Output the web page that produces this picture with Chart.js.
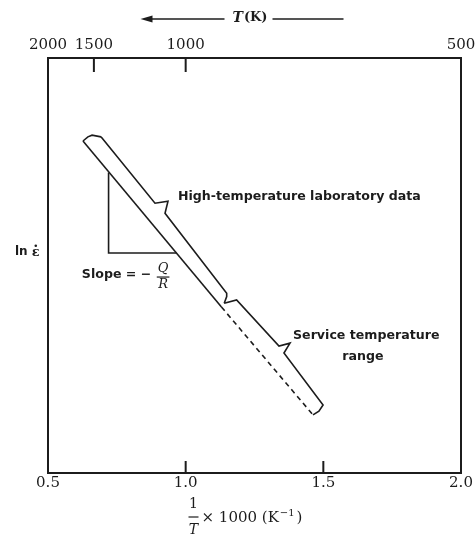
<!DOCTYPE html>
<html>
<head>
<meta charset="utf-8">
<script src="https://cdn.jsdelivr.net/npm/chart.js@4.4.0/dist/chart.umd.min.js"></script>
<style>
  html, body { margin: 0; padding: 0; background: #fff; }
</style>
</head>
<body>
<canvas id="creepChart" width="476" height="541"></canvas>
<script>
// bottom axis: 1000/T in 1/K
const invTempTicks = [0.5, 1.0, 1.5, 2.0];
// top axis: temperature in K
const tempTicks = [2000, 1500, 1000, 500];

// band outline, x = 1000/T, y = ln(strain rate) in arbitrary units
const bandTopCap = [[0.627, 8.0], [0.645, 8.10], [0.660, 8.14], [0.6925, 8.10]];
const labDataEdge = [[0.6925, 8.10], [0.8886, 6.50], [0.9358, 6.55], [0.925, 6.26], [1.149, 4.33], [1.149, 4.25], [1.14, 4.09]];
const serviceEdge = [[1.14, 4.09], [1.185, 4.17], [1.339, 3.06], [1.379, 3.13], [1.357, 2.89], [1.499, 1.64], [1.484, 1.49], [1.4625, 1.40]];
const lowerEdgeSolid = [[0.627, 8.0], [1.13, 4.0]];
const lowerEdgeDashed = [[1.13, 4.0], [1.4625, 1.40]];
const slopeTriangle = [[0.72, 7.24], [0.72, 5.3], [0.966, 5.3]];

const ink = '#1c1c1c';
const serif = 'DejaVu Serif';
const sans = 'DejaVu Sans';

function edge(points, dash) {
    return {
        data: points.map(([x, y]) => ({ x, y })),
        showLine: true,
        borderColor: ink,
        borderWidth: 1.6,
        borderDash: dash || [],
        pointRadius: 0,
        tension: 0
    };
}

function line(ctx, x1, y1, x2, y2) {
    ctx.beginPath();
    ctx.moveTo(x1, y1);
    ctx.lineTo(x2, y2);
    ctx.stroke();
}

function text(ctx, str, x, y, font, align) {
    ctx.font = font;
    ctx.textAlign = align || 'left';
    ctx.textBaseline = 'middle';
    ctx.fillText(str, x, y);
    return ctx.measureText(str).width;
}

function fraction(ctx, num, den, cx, cy, font, gap) {
    text(ctx, num, cx, cy - gap, font, 'center');
    text(ctx, den, cx, cy + gap, font, 'center');
    ctx.font = font;
    const w = Math.max(ctx.measureText(num).width, ctx.measureText(den).width) + 2;
    ctx.lineWidth = 1.2;
    line(ctx, cx - w / 2, cy, cx + w / 2, cy);
}

// keep the plot box fixed, whatever the edge labels need
function fixBox(size) {
    return s => {
        if (s.isHorizontal()) s.height = size; else s.width = size;
        s.paddingLeft = 0;
        s.paddingRight = 0;
        s.paddingTop = 0;
        s.paddingBottom = 0;
    };
}

const figureNotes = {
    id: 'figureNotes',
    afterDraw(chart) {
        const { ctx, chartArea: area, scales } = chart;
        const x = scales.x, y = scales.y, top = scales.xTop;
        const px = v => x.getPixelForValue(v);
        const py = v => y.getPixelForValue(v);
        ctx.save();
        ctx.strokeStyle = ink;
        ctx.fillStyle = ink;

        // tick marks point into the plot
        ctx.lineWidth = 2;
        invTempTicks.filter(v => v > x.min && v < x.max).forEach(v => {
            line(ctx, px(v), area.bottom, px(v), area.bottom - 12);
        });
        tempTicks.map(t => 1000 / t).filter(v => v > top.min && v < top.max).forEach(v => {
            const p = top.getPixelForValue(v);
            line(ctx, p, area.top, p, area.top + 14);
        });

        // top title with arrow
        const ty = area.top - 40;
        const tx = (area.left + area.right) / 2 - 22;
        let w = text(ctx, 'T', tx, ty, 'italic bold 14px ' + serif);
        text(ctx, '(K)', tx + w + 1, ty, 'bold 13px ' + serif);
        ctx.lineWidth = 1.5;
        line(ctx, tx - 8, ty + 1, tx - 86, ty + 1);
        ctx.beginPath();
        ctx.moveTo(tx - 92, ty + 1);
        ctx.lineTo(tx - 80, ty - 2.5);
        ctx.lineTo(tx - 80, ty + 4.5);
        ctx.closePath();
        ctx.fill();
        line(ctx, tx + 40, ty + 1, tx + 111, ty + 1);

        // bottom title: 1/T x 1000 (K^-1)
        const by = area.bottom + 44;
        const bx = (area.left + area.right) / 2 - 61;
        text(ctx, '1', bx, by - 13, '14px ' + serif, 'center');
        text(ctx, 'T', bx, by + 13, 'italic 14px ' + serif, 'center');
        ctx.lineWidth = 1.2;
        line(ctx, bx - 5, by, bx + 5, by);
        w = text(ctx, '× 1000 (K', bx + 8, by + 1, '15px ' + serif);
        const sw = text(ctx, '−1', bx + 9 + w, by - 4, '10px ' + serif);
        text(ctx, ')', bx + 11 + w + sw, by + 1, '15px ' + serif);

        // y label
        const ly = py(5.33);
        w = text(ctx, 'ln ', area.left - 33, ly, 'bold 12px ' + sans);
        const ew = text(ctx, 'ε', area.left - 33 + w, ly + 1, 'bold 13px ' + serif);
        ctx.beginPath();
        ctx.arc(area.left - 33 + w + ew / 2, ly - 6, 1.3, 0, Math.PI * 2);
        ctx.fill();

        // annotations
        const noteFont = 'bold 12.6px ' + sans;
        text(ctx, 'High-temperature laboratory data', px(0.972), py(6.65), noteFont);
        text(ctx, 'Service temperature', px(1.39), py(3.30), noteFont);
        text(ctx, 'range', px(1.644), py(2.80), noteFont, 'center');
        text(ctx, 'Slope = −', px(0.623), py(4.77), noteFont);
        fraction(ctx, 'Q', 'R', px(0.918), py(4.77) + 2, 'italic 13px ' + serif, 8);

        ctx.restore();
    }
};

const numberFont = { family: serif, size: 15 };

new Chart(document.getElementById('creepChart'), {
    type: 'scatter',
    data: {
        datasets: [
            edge(bandTopCap),
            edge(labDataEdge),
            edge(serviceEdge),
            edge(lowerEdgeSolid),
            edge(lowerEdgeDashed, [5, 4]),
            edge(slopeTriangle)
        ]
    },
    options: {
        responsive: false,
        animation: false,
        devicePixelRatio: 1,
        layout: { padding: 0 },
        plugins: { legend: { display: false }, tooltip: { enabled: false } },
        scales: {
            x: {
                type: 'linear',
                position: 'bottom',
                min: 0.5,
                max: 2.0,
                afterBuildTicks: s => { s.ticks = invTempTicks.map(v => ({ value: v })); },
                afterFit: fixBox(68),
                ticks: { callback: v => v.toFixed(1), color: ink, font: numberFont, padding: 1, maxRotation: 0, autoSkip: false },
                grid: { drawOnChartArea: false, drawTicks: false },
                border: { color: ink, width: 2 }
            },
            xTop: {
                type: 'linear',
                position: 'top',
                min: 0.5,
                max: 2.0,
                afterBuildTicks: s => { s.ticks = tempTicks.map(t => ({ value: 1000 / t })); },
                afterFit: fixBox(58),
                ticks: { callback: v => String(Math.round(1000 / v)), color: ink, font: numberFont, padding: 4, maxRotation: 0, autoSkip: false },
                grid: { drawOnChartArea: false, drawTicks: false },
                border: { color: ink, width: 2 }
            },
            y: {
                type: 'linear',
                position: 'left',
                min: 0,
                max: 10,
                afterFit: fixBox(48),
                ticks: { display: false },
                grid: { drawOnChartArea: false, drawTicks: false },
                border: { color: ink, width: 2 }
            },
            yRight: {
                type: 'linear',
                position: 'right',
                min: 0,
                max: 10,
                afterFit: fixBox(15),
                ticks: { display: false },
                grid: { drawOnChartArea: false, drawTicks: false },
                border: { color: ink, width: 2 }
            }
        }
    },
    plugins: [figureNotes]
});
</script>
</body>
</html>
